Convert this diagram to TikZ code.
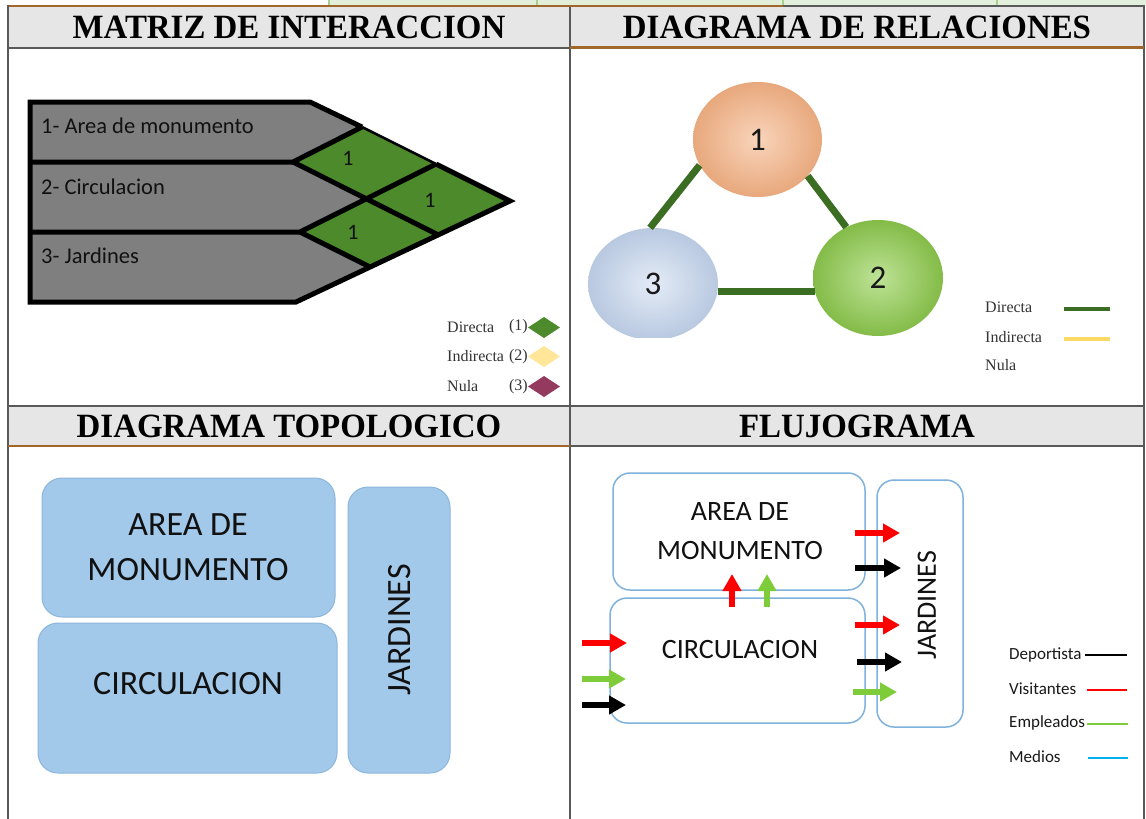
\documentclass[tikz,border=0pt]{standalone}
\usepackage{fontspec}
\usepackage{graphicx}
\setmainfont{Liberation Serif}
\newfontfamily\calfont{Carlito}
\usetikzlibrary{arrows.meta,shapes.geometric}
\newcommand{\myfs}[1]{\fontsize{#1}{#1}\selectfont}
\newcommand{\hd}[1]{\scalebox{0.968}[1]{\myfs{34}\bfseries #1}}
\definecolor{hdrgray}{HTML}{E7E6E6}
\definecolor{bordgray}{HTML}{595959}
\definecolor{hbrown}{HTML}{A0662A}
\definecolor{lgreen}{HTML}{E2EFDA}
\definecolor{lgreenline}{HTML}{A9D08E}
\definecolor{mgray}{HTML}{7F7F7F}
\definecolor{mgreen}{HTML}{4C8A2B}
\definecolor{pyellow}{HTML}{FFE699}
\definecolor{nmaroon}{HTML}{943A5F}
\definecolor{peach}{HTML}{F4B183}
\definecolor{lime}{HTML}{92D050}
\definecolor{pblue}{HTML}{C2D3EC}
\definecolor{dgreen}{HTML}{3B6E22}
\definecolor{ylw}{HTML}{FFD966}
\definecolor{topo}{HTML}{A2C8EA}
\definecolor{topobord}{HTML}{8DB6DC}
\definecolor{flbord}{HTML}{7FB2DC}
\definecolor{egreen}{HTML}{7FCC3A}
\definecolor{mblue}{HTML}{00B0F0}
\definecolor{txt}{HTML}{111111}
\begin{document}
\begin{tikzpicture}[x=1pt,y=-1pt,
  gridline/.style={bordgray,line width=2pt},
  brownline/.style={hbrown,line width=2.5pt},
  rowlabel/.style={anchor=west,font=\calfont\myfs{22.5},text=txt,inner sep=0},
  dlabel/.style={font=\calfont\myfs{22},text=txt,inner sep=0},
  leg/.style={font=\myfs{16},text=black!80,inner sep=0},
  legsans/.style={font=\calfont\myfs{17},text=black!90,anchor=west,inner sep=0},
  blk/.style={black,line width=5pt,line join=miter},
  ball/.style={ellipse,inner sep=0,font=\calfont\myfs{33},text=black!90},
  rel/.style={dgreen,line width=7pt},
  topobox/.style={fill=topo,draw=topobord,line width=1pt,rounded corners=20pt,inner sep=0},
  topotext/.style={font=\calfont\myfs{34},text=txt,inner sep=0,align=center},
  flbox/.style={fill=white,draw=flbord,line width=1.5pt,rounded corners=17pt,inner sep=0},
  fltext/.style={font=\calfont\myfs{28},text=txt,inner sep=0,align=center},
  farrow/.style={line width=6pt,-{Triangle[length=17pt,width=18pt]}},
  legline/.style={line width=2pt}
]
\useasboundingbox (0,0) rectangle (1146,819);
\fill[white] (0,0) rectangle (1146,819);
% ---------- top strip of the previous table row ----------
\fill[lgreen] (329,0) rectangle (1146,5);
\foreach \xx in {329,537,783,997}{\draw[lgreenline,line width=1.5pt] (\xx,0) -- (\xx,5);}
% ---------- header bands ----------
\fill[hdrgray] (8,7) rectangle (1144,47.5);
\fill[hdrgray] (8,406) rectangle (1144,446);
% ---------- grid lines ----------
\draw[gridline] (783,6) -- (1145,6);
\draw[brownline] (7,6) -- (783,6);
\draw[gridline] (8,5) -- (8,819);
\draw[gridline] (1144,5) -- (1144,819);
\draw[gridline] (570,7) -- (570,819);
\draw[gridline] (8,47.5) -- (570,47.5);
\draw[brownline] (570,47.5) -- (1144,47.5);
\draw[gridline] (8,406) -- (1144,406);
\draw[brownline] (8,446) -- (570,446);
\draw[gridline] (570,446) -- (1144,446);
% ---------- headers ----------
\node[anchor=base,inner sep=0] (h1) at (289,38.5) {\hd{MATRIZ DE INTERACCION}};
\node[anchor=base,inner sep=0] (h2) at (857,38.5) {\hd{DIAGRAMA DE RELACIONES}};
\node[anchor=base,inner sep=0] (h3) at (289,437.5) {\hd{DIAGRAMA TOPOLOGICO}};
\node[anchor=base,inner sep=0] (h4) at (857,437.5) {\hd{FLUJOGRAMA}};
% ---------- matriz de interaccion ----------
\fill[mgray] (30,102) -- (310,102) -- (362,127) -- (293,162) -- (30,162) -- cycle;
\fill[mgray] (30,162) -- (293,162) -- (366.5,199) -- (300,232) -- (30,232) -- cycle;
\fill[mgray] (30,232) -- (300,232) -- (370,267) -- (296,302) -- (30,302) -- cycle;
\fill[mgreen] (293,162) -- (362,127) -- (436,164) -- (366.5,199) -- cycle;
\fill[mgreen] (366.5,199) -- (436,164) -- (510,201) -- (438.5,235) -- cycle;
\fill[mgreen] (300,232) -- (366.5,199) -- (438.5,235) -- (370,267) -- cycle;
\draw[blk] (362,127) -- (310,102) -- (30,102) -- (30,302) -- (296,302) -- (510,201) -- (436,164);
\draw[black,line width=2.5pt] (362,127) -- (436,164);
\draw[blk] (30,162) -- (293,162) -- (362,127);
\draw[blk] (30,232) -- (300,232) -- (436,164);
\draw[blk] (293,162) -- (438.5,235);
\draw[blk] (300,232) -- (370,267);
\node[rowlabel] (r1) at (41,126) {1- Area de monumento};
\node[rowlabel] (r2) at (41,187) {2- Circulacion};
\node[rowlabel] (r3) at (41,256) {3- Jardines};
\node[dlabel] (d12) at (348,158) {1};
\node[dlabel] (d13) at (430,200) {1};
\node[dlabel] (d23) at (353,232) {1};
% legend
\node[leg,anchor=west] (l1) at (447,327) {Directa};
\node[leg,anchor=east] (l1n) at (528,327) {(1)};
\node[leg,anchor=west] (l2) at (447,356.5) {Indirecta};
\node[leg,anchor=east] (l2n) at (528,356.5) {(2)};
\node[leg,anchor=west] (l3) at (447,386.5) {Nula};
\node[leg,anchor=east] (l3n) at (528,386.5) {(3)};
\fill[mgreen] (528,327.5) -- (544,317) -- (560,327.5) -- (544,338) -- cycle;
\fill[pyellow] (528,356.5) -- (544,346) -- (560,356.5) -- (544,367) -- cycle;
\fill[nmaroon] (528,386.5) -- (544,376) -- (560,386.5) -- (544,397) -- cycle;
% ---------- diagrama de relaciones ----------
\begin{scope}
\clip (571,49) rectangle (1143,337);
\node[ball,minimum width=129pt,minimum height=115pt,shade,inner color=peach!55!white,outer color=peach!95!black] (n1) at (757.5,139.5) {1};
\node[ball,minimum width=130pt,minimum height=112pt,shade,inner color=pblue!45!white,outer color=pblue!95!black] (n3) at (653,284) {3};
\node[ball,minimum width=130pt,minimum height=116pt,shade,inner color=lime!60!white,outer color=lime!90!black] (n2) at (878,278) {2};
\end{scope}
\draw[rel] (n1.204) -- (n3.93);
\draw[rel] (n1.-36) -- (n2.122);
\draw[rel] (n3.-7) -- (n2.193 |- n3.-7);
\node[leg,anchor=west] (rl1) at (985,307) {Directa};
\node[leg,anchor=west] (rl2) at (985,337) {Indirecta};
\node[leg,anchor=west] (rl3) at (985,365) {Nula};
\coordinate (rd1) at (1064,309);
\coordinate (rd2) at (1110,309);
\coordinate (ri1) at (1064,339);
\coordinate (ri2) at (1110,339);
\draw[dgreen,line width=4pt] (rd1) -- (rd2);
\draw[ylw,line width=4pt] (ri1) -- (ri2);
% ---------- diagrama topologico ----------
\node[topobox,minimum width=293pt,minimum height=139pt] (ta) at (188.5,547.5) {};
\node[topobox,minimum width=299pt,minimum height=150pt] (tc) at (187.5,698) {};
\node[topobox,minimum width=102pt,minimum height=286pt] (tj) at (399,630) {};
\node[topotext] (tat) at (188,525) {AREA DE};
\node[topotext] (tam) at (188,570) {MONUMENTO};
\node[topotext] (tct) at (188,684) {CIRCULACION};
\node[topotext,rotate=90] (tjt) at (400,630) {JARDINES};
% ---------- flujograma ----------
\node[flbox,minimum width=252pt,minimum height=117pt] (fa) at (739,531.5) {};
\node[flbox,minimum width=255pt,minimum height=125pt] (fc) at (737.5,660.5) {};
\node[flbox,minimum width=86pt,minimum height=247pt] (fj) at (920,603.5) {};
\node[fltext] (fat) at (740,512) {AREA DE};
\node[fltext] (fam) at (740,551) {MONUMENTO};
\node[fltext] (fct) at (740,650) {CIRCULACION};
\node[fltext,rotate=90] (fjt) at (927,605) {JARDINES};
% arrows into circulacion
\draw[farrow,red] (582,643) -- (627,643);
\draw[farrow,egreen] (582,679) -- (626,679);
\draw[farrow,black] (582,705) -- (626,705);
% arrows up into area de monumento
\draw[farrow,red] (732,607) -- (732,574);
\draw[farrow,egreen] (767,607) -- (767,574);
% arrows into jardines
\draw[farrow,red] (855,533) -- (900,533);
\draw[farrow,black] (855,568) -- (901,568);
\draw[farrow,red] (855,625) -- (900,625);
\draw[farrow,black] (857,662) -- (902,662);
\draw[farrow,egreen] (853,692) -- (897,692);
% legend
\node[legsans] (fl1) at (1009,655) {Deportista};
\node[legsans] (fl2) at (1009,689) {Visitantes};
\node[legsans] (fl3) at (1009,723) {Empleados};
\node[legsans] (fl4) at (1009,757) {Medios};
\coordinate (fa1) at (1085,655);   \coordinate (fb1) at (1127,655);
\coordinate (fa2) at (1087,690);   \coordinate (fb2) at (1127,690);
\coordinate (fa3) at (1087,724);   \coordinate (fb3) at (1128,724);
\coordinate (fa4) at (1088,758);   \coordinate (fb4) at (1128,758);
\draw[legline,black] (fa1) -- (fb1);
\draw[legline,red] (fa2) -- (fb2);
\draw[legline,egreen] (fa3) -- (fb3);
\draw[legline,mblue] (fa4) -- (fb4);
\end{tikzpicture}
\end{document}
